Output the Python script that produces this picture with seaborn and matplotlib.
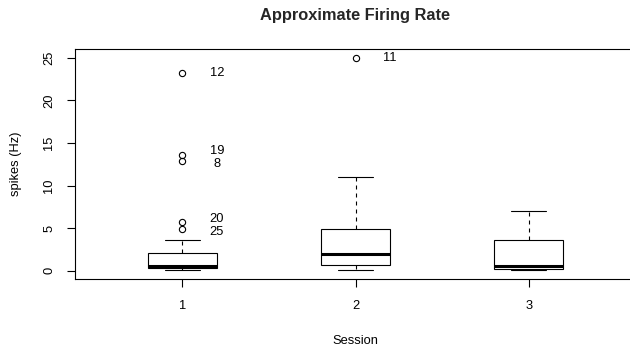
import numpy as np
import pandas as pd
import matplotlib
matplotlib.use("Agg")
import matplotlib.pyplot as plt
import seaborn as sns

# Approximate firing rate (Hz) per recording, in recording order within each session
session_labels = ["1", "2", "3"]
session1_rates = [0.44, 1.15, 0.22, 0.59, 2.11, 0.08, 0.33, 12.9, 0.74, 0.18,
                  3.6, 23.2, 0.49, 0.25, 1.76, 0.12, 0.92, 0.38, 13.6, 5.7,
                  0.28, 1.42, 0.15, 0.55, 4.93]
session2_rates = [1.45, 4.2, 0.31, 2.75, 0.63, 9.4, 0.12, 1.92, 5.8, 0.48,
                  25.0, 1.02, 3.1, 0.2, 11.03, 1.7, 0.55, 6.9, 2.3, 0.81,
                  4.93, 0.4, 8.1, 1.24, 3.6]
session3_rates = [0.36, 2.6, 0.1, 5.4, 0.59, 0.18, 1.1, 7.04, 0.25, 0.14,
                  3.6, 0.5, 4.8, 0.08, 2.0, 0.3, 6.5, 0.12, 0.8, 4.2,
                  0.2, 1.5, 0.42, 6.0, 0.16]
y_ticks = [0, 5, 10, 15, 20, 25]

rates_by_session = [session1_rates, session2_rates, session3_rates]
df = pd.DataFrame({
    "Session": np.repeat(session_labels, [len(r) for r in rates_by_session]),
    "rate": np.concatenate(rates_by_session),
})

sns.set_style("ticks")
plt.rcParams["font.family"] = ["Liberation Sans", "DejaVu Sans"]

fig, ax = plt.subplots(figsize=(6.3, 3.46), dpi=100)
ax.set_position([75 / 630, 67 / 346, 561 / 630, 230 / 346])

sns.boxplot(
    data=df, x="Session", y="rate", ax=ax,
    order=session_labels, width=0.4, whis=1.5,
    color="white", linecolor="black", linewidth=0.8, saturation=1,
    medianprops={"linewidth": 2.2, "color": "black"},
    whiskerprops={"linestyle": (0, (3.6, 3.6)), "color": "black", "linewidth": 0.8},
    capprops={"color": "black", "linewidth": 0.8},
    flierprops={"marker": "o", "markerfacecolor": "none",
                "markeredgecolor": "black", "markeredgewidth": 0.8,
                "markersize": 4.5},
)

# Label each outlying recording with its index, spreading labels that collide
min_gap = 1.5
for pos, rates in enumerate(rates_by_session):
    vals = np.asarray(rates)
    q1, q3 = np.percentile(vals, [25, 75])
    iqr = q3 - q1
    out_idx = [i for i, v in enumerate(vals) if v > q3 + 1.5 * iqr or v < q1 - 1.5 * iqr]
    out_idx.sort(key=lambda i: vals[i])
    groups = []
    for i in out_idx:
        if groups and vals[i] - vals[groups[-1][-1]] < min_gap:
            groups[-1].append(i)
        else:
            groups.append([i])
    for g in groups:
        centre = np.mean([vals[i] for i in g])
        n = len(g)
        for k, i in enumerate(g):
            ty = centre + (k - (n - 1) / 2) * min_gap
            ax.text(pos + 0.2, ty, str(i + 1), ha="center", va="center",
                    fontsize=9.3, color="black")

ax.set_xlim(-0.62, 2.62)
ax.set_ylim(-0.97, 26.02)
ax.set_yticks(y_ticks)
ax.set_yticklabels([str(t) for t in y_ticks], rotation=90, va="center")
ax.tick_params(axis="both", length=5.8, width=0.8, color="black",
               labelsize=9.3, labelcolor="black")
ax.tick_params(axis="y", pad=8.5)
ax.tick_params(axis="x", pad=9.5)

for side in ["left", "right", "top", "bottom"]:
    ax.spines[side].set_visible(True)
    ax.spines[side].set_color("black")
    ax.spines[side].set_linewidth(0.8)

ax.set_xlabel("Session", fontsize=9.3, color="black")
ax.xaxis.set_label_coords(0.5, -0.245)
ax.set_ylabel("spikes (Hz)", fontsize=9.3, color="black")
ax.yaxis.set_label_coords(-0.094, 0.5)
ax.set_title("Approximate Firing Rate", fontsize=11.8, fontweight="bold", pad=21)

fig.savefig("out.png", dpi=100)
